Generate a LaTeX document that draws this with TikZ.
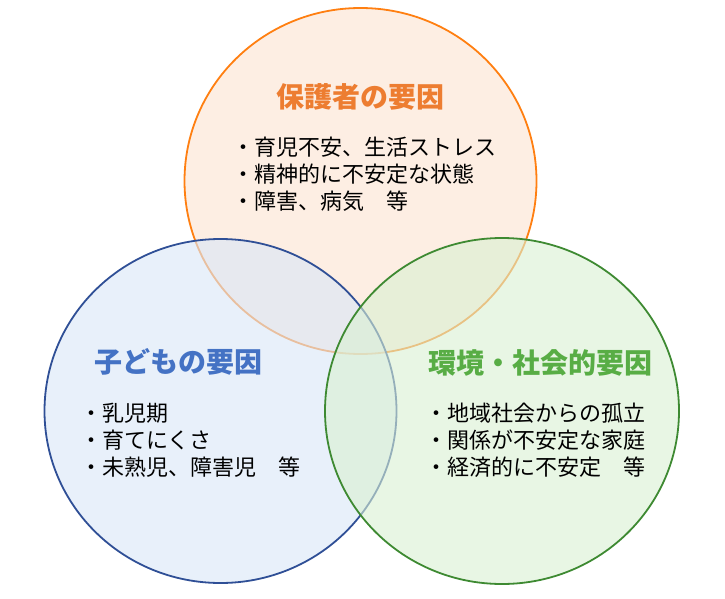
\documentclass[tikz,border=0pt]{standalone}
\usepackage{fontspec}
\newfontfamily\jp{Noto Sans CJK JP}
\definecolor{orS}{RGB}{255,127,17}
\definecolor{orF}{RGB}{253,238,227}
\definecolor{orT}{RGB}{237,125,49}
\definecolor{blS}{RGB}{47,79,150}
\definecolor{blF}{RGB}{218,231,247}
\definecolor{blT}{RGB}{68,114,196}
\definecolor{grS}{RGB}{62,138,50}
\definecolor{grF}{RGB}{217,240,210}
\definecolor{grT}{RGB}{88,173,69}
\tikzset{
  ring/.style={line width=1.8pt},
  title/.style={inner sep=0pt, anchor=center, font=\jp\bfseries\fontsize{28}{32}\selectfont},
  item/.style={inner sep=0pt, anchor=west, font=\jp\fontsize{22}{27}\selectfont, text=black}
}
\begin{document}
\begin{tikzpicture}[x=1pt,y=-1pt]
\useasboundingbox (0,0) rectangle (725,599);
% orange circle
\fill[orF] (360.5,181) ellipse [x radius=176pt, y radius=173pt];
\draw[ring, orS] (360.5,181) ellipse [x radius=176pt, y radius=173pt];
% blue circle
\fill[blF, fill opacity=0.62] (220.5,411) ellipse [x radius=176pt, y radius=172pt];
\draw[ring, blS] (220.5,411) ellipse [x radius=176pt, y radius=172pt];
% green circle
\fill[grF, fill opacity=0.6] (502,411) ellipse [x radius=177pt, y radius=173pt];
\draw[ring, grS] (502,411) ellipse [x radius=177pt, y radius=173pt];
% texts
\node[title, text=orT] (t1) at (360.5,97) {保護者の要因};
\node[item] (a1) at (232,147) {・育児不安、生活ストレス};
\node[item] (a2) at (232,174) {・精神的に不安定な状態};
\node[item] (a3) at (232,201) {・障害、病気\hspace{22pt}等};
\node[title, text=blT] (t2) at (178,362) {子どもの要因};
\node[item] (b1) at (80,413) {・乳児期};
\node[item] (b2) at (80,440) {・育てにくさ};
\node[item] (b3) at (80,467) {・未熟児、障害児\hspace{22pt}等};
\node[title, text=grT] (t3) at (540,363) {環境・社会的要因};
\node[item] (c1) at (425,413) {・地域社会からの孤立};
\node[item] (c2) at (425,440) {・関係が不安定な家庭};
\node[item] (c3) at (425,467) {・経済的に不安定\hspace{22pt}等};
\end{tikzpicture}
\end{document}
